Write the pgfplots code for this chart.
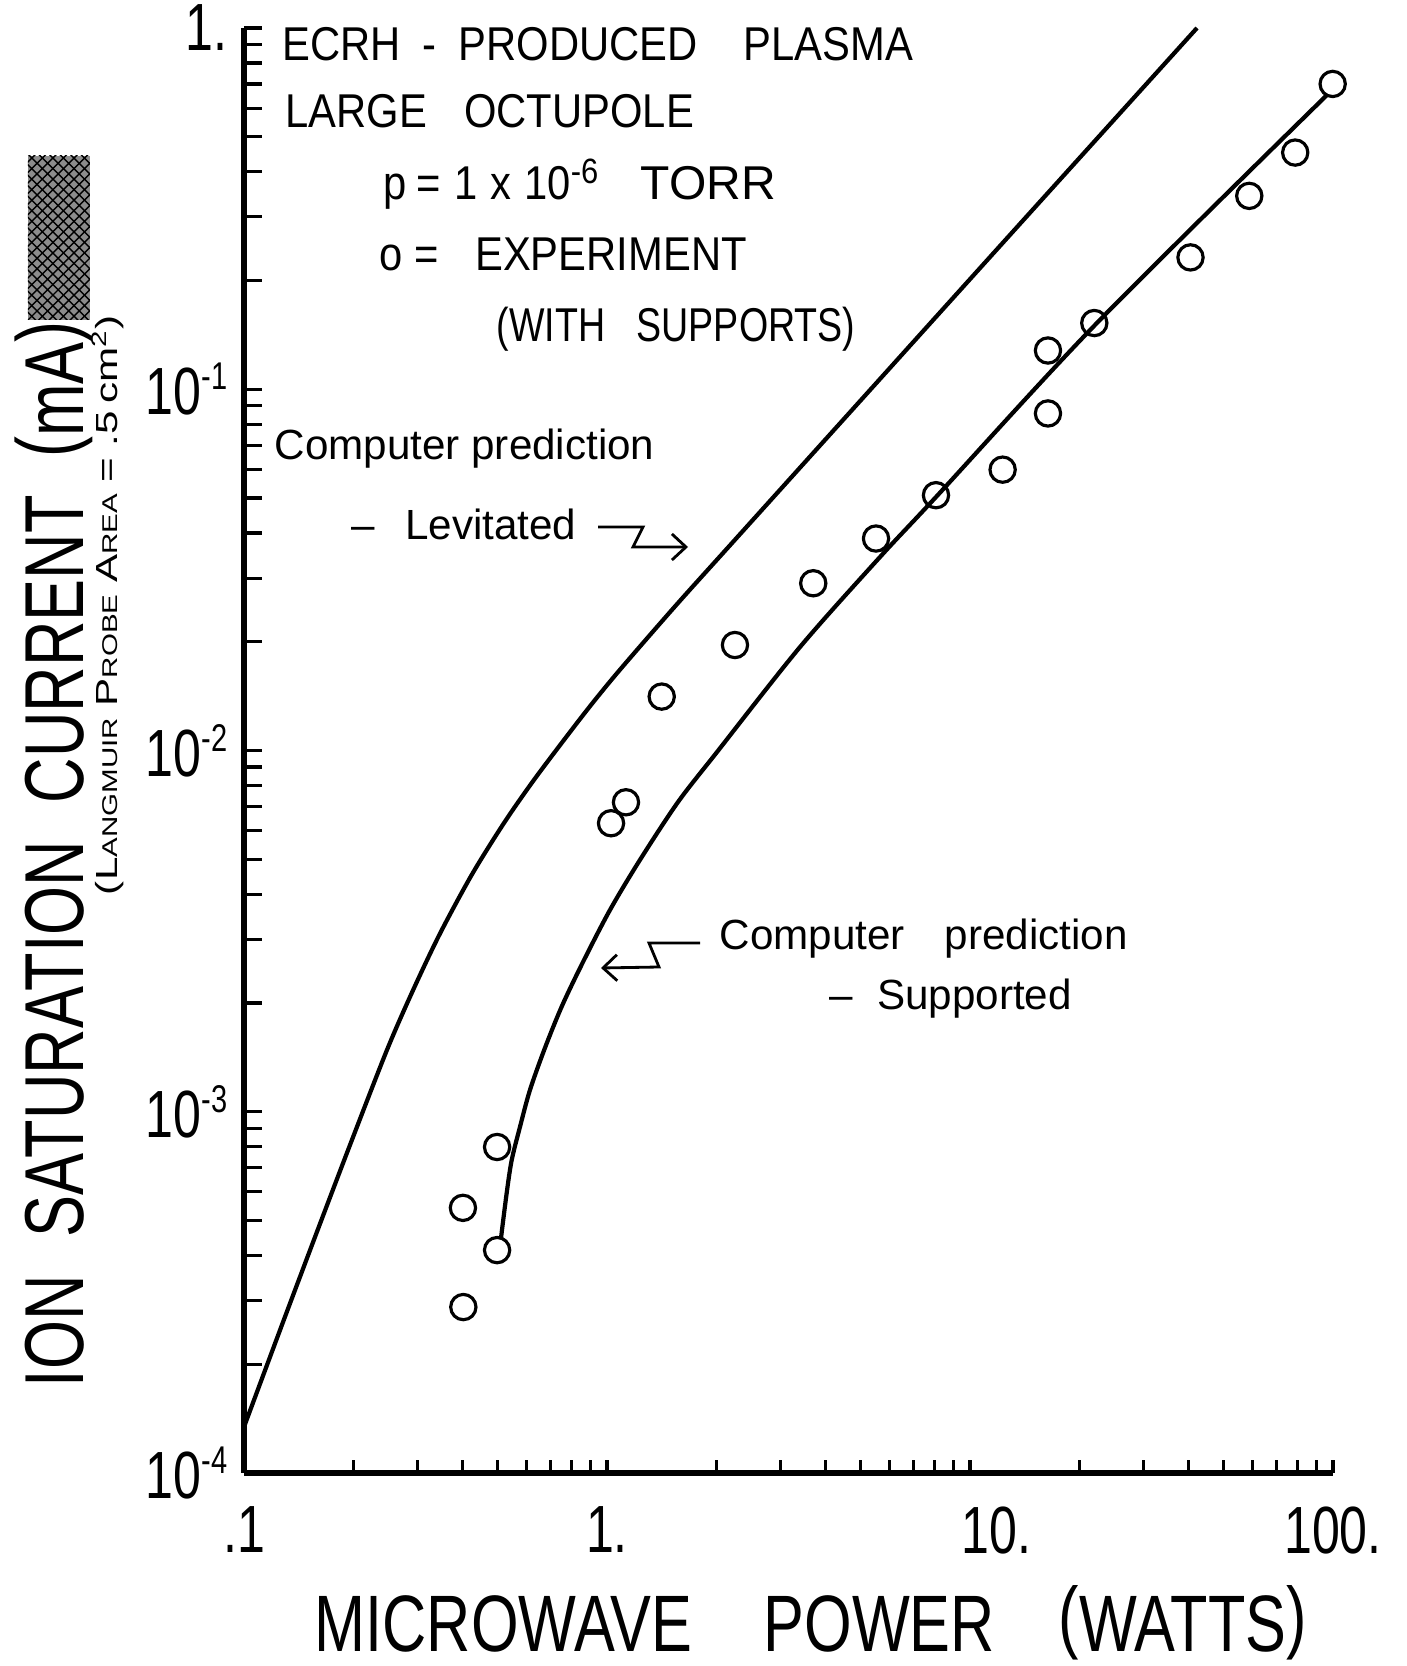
\documentclass[border=0pt]{standalone}
\usepackage{pgfplots}
\pgfplotsset{compat=1.18}
\usepackage{fontspec}
\setmainfont{Liberation Sans}
\newfontfamily\condfont[FakeStretch=0.75]{Liberation Sans}
\newfontfamily\capfont[FakeStretch=0.88]{Liberation Sans}
\usetikzlibrary{patterns,arrows.meta}

% pixel grid of the scan: 1 px = 0.1 mm, origin top left
\tikzset{px/.style={x=0.1mm,y=-0.1mm,shift={(-24.4mm,147.3mm)}}}
\newcommand\sm[2]{{\fontsize{10}{10}\selectfont #1}{\fontsize{7}{7}\selectfont #2}}
\newcommand\ex[1]{\raisebox{2.5mm}{\fontsize{11}{11}\selectfont #1}}
\newcommand\rp[1]{\raisebox{0.1em}{#1}}

\begin{document}
\begin{tikzpicture}
\path[use as bounding box] (-24.4mm,-19.3mm) rectangle (116.3mm,147.3mm);

\begin{axis}[
  at={(0,0)}, anchor=south west,
  scale only axis, width=108.9mm, height=144.5mm,
  xmode=log, ymode=log,
  xmin=0.1, xmax=100, ymin=1e-4, ymax=1,
  axis x line*=bottom, axis y line*=left,
  axis line style={line width=1.5pt},
  tick align=inside,
  tick style={line width=0.9pt, black},
  major tick length=1.8mm, minor tick length=1.8mm,
  xtick style={/pgfplots/major tick length=1.3mm, /pgfplots/minor tick length=1.3mm},
  xtick={0.1,1,10,100},
  xticklabels={.1,1.,\hspace*{5.3mm}10.,100.},
  minor xtick={0.2,0.3,0.4,0.5,0.6,0.7,0.8,0.9,2,3,4,5,6,7,8,9,20,30,40,50,60,70,80,90},
  ytick={1e-4,1e-3,1e-2,1e-1,1},
  yticklabels={10\ex{-4},10\ex{-3},10\ex{-2},10\ex{-1},1.},
  minor ytick={2e-4,3e-4,4e-4,5e-4,6e-4,7e-4,8e-4,9e-4,
               2e-3,3e-3,4e-3,5e-3,6e-3,7e-3,8e-3,9e-3,
               0.02,0.03,0.04,0.05,0.06,0.07,0.08,0.09,
               0.2,0.3,0.4,0.5,0.6,0.7,0.8,0.9},
  ticklabel style={font=\condfont\fontsize{19}{19}\selectfont},
  xticklabel style={anchor=north, inner sep=0pt, yshift=-3.3mm},
  yticklabel style={anchor=east, inner sep=0pt, xshift=-1.6mm},
  clip=false,
]
% computer prediction, levitated
\addplot[line width=1.2pt, smooth, tension=0.5] coordinates {
  (0.1,1.341e-4) (0.1257,2.488e-4) (0.1569,4.50e-4) (0.1959,8.09e-4)
  (0.2477,1.483e-3) (0.2922,2.170e-3) (0.3467,3.113e-3) (0.4247,4.54e-3)
  (0.5203,6.30e-3) (0.6215,8.15e-3) (0.742,1.034e-2) (0.8979,1.326e-2)
  (1.086,1.674e-2) (1.549,0.02523) (2.224,0.03778) (4.670,0.08634)
  (12.09,0.2491) (42.21,1.0)
};
% computer prediction, supported
\addplot[line width=1.2pt, smooth, tension=0.5] coordinates {
  (0.5105,4.47e-4) (0.5293,5.96e-4) (0.5464,7.35e-4) (0.5757,9.07e-4)
  (0.6136,1.149e-3) (0.6747,1.502e-3) (0.7516,1.963e-3) (0.8588,2.597e-3)
  (1.0193,3.62e-3) (1.2328,4.98e-3) (1.569,7.20e-3) (2.009,9.90e-3)
  (3.402,0.01934) (5.65,0.03432) (8.058,0.0503) (22.38,0.1526) (96.27,0.6524)
};
% experiment (with supports)
\addplot[only marks, mark=o, mark size=3.6pt, mark options={line width=0.9pt}] coordinates {
  (0.401,5.42e-4) (0.402,2.88e-4) (0.498,7.99e-4) (0.498,4.14e-4)
  (1.026,6.29e-3) (1.128,7.19e-3) (1.415,0.0141) (2.252,0.01959)
  (3.70,0.02904) (5.51,0.03862) (8.06,0.0509) (12.3,0.0599)
  (16.4,0.0857) (16.4,0.128) (22.0,0.1525) (40.5,0.2317)
  (58.8,0.343) (78.7,0.452) (99.8,0.700)
};
\end{axis}

\begin{scope}[px]
  % axis titles
  \node[anchor=base west, inner sep=0] at (314,1651)
    {\resizebox{99.2mm}{6.6mm}{MICROWAVE\hspace{1.17em}POWER\hspace{1.04em}\rp{(}WATTS\rp{)}}};
  \node[anchor=base west, inner sep=0, rotate=90] at (84,1388)
    {\resizebox{106.6mm}{6.9mm}{ION\hspace{0.6em}SATURATION\hspace{0.6em}CURRENT\hspace{0.6em}\rp{(}mA\rp{)}}};
  \node[inner sep=0, rotate=90] at (108,605)
    {\resizebox{58mm}{2.6mm}{(\sm{L}{ANGMUIR} \sm{P}{ROBE} \sm{A}{REA} = .5\,{\fontsize{10}{10}\selectfont cm}\textsuperscript{2})}};
  % struck out part of the label
  \fill[black!45] (28,156) rectangle (90,320);
  \path[pattern=crosshatch] (28,156) rectangle (90,320);

  % notes
  \begin{scope}[font=\capfont\fontsize{13.5}{13.5}\selectfont]
    \node[anchor=base west, inner sep=0] at (282,61)
      {ECRH\hspace{2.2mm}-\hspace{2.2mm}PRODUCED\hspace{4.6mm}PLASMA};
    \node[anchor=base west, inner sep=0] at (285,128) {LARGE\hspace{3.7mm}OCTUPOLE};
    \node[anchor=base west, inner sep=0] at (383,200)
      {p\hspace{1mm}=\hspace{1.3mm}1\hspace{1.3mm}x\hspace{1.3mm}10\raisebox{1.6mm}{\fontsize{10}{10}\selectfont -6}};
    \node[anchor=base west, inner sep=0] at (640,200) {\scalebox{1.15}[1]{TORR}};
    \node[anchor=base west, inner sep=0] at (379,271) {o\hspace{1.2mm}=\hspace{3.6mm}EXPERIMENT};
    \node[anchor=base west, inner sep=0] at (496,342)
      {\scalebox{0.9}[1]{(WITH\hspace{3.5mm}SUPPORTS)}};
  \end{scope}
  \begin{scope}[font=\fontsize{12}{12}\selectfont]
    \node[anchor=base west, inner sep=0] at (274,460) {Computer prediction};
    \node[anchor=base west, inner sep=0] at (351,540) {\textendash\hspace{3mm}Levitated};
    \node[anchor=base west, inner sep=0] at (719,949) {Computer\hspace{4mm}prediction};
    \node[anchor=base west, inner sep=0] at (829,1010) {\textendash\hspace{2.4mm}Supported};
  \end{scope}
  \draw[line width=0.8pt, -{Straight Barb[length=1.4mm,width=2.6mm]}]
    (598,527) -- (643,527) -- (633,547) -- (688,547);
  \draw[line width=0.8pt, -{Straight Barb[length=1.4mm,width=2.6mm]}]
    (700,943) -- (649,943) -- (659,967) -- (601,968);
\end{scope}
\end{tikzpicture}
\end{document}
